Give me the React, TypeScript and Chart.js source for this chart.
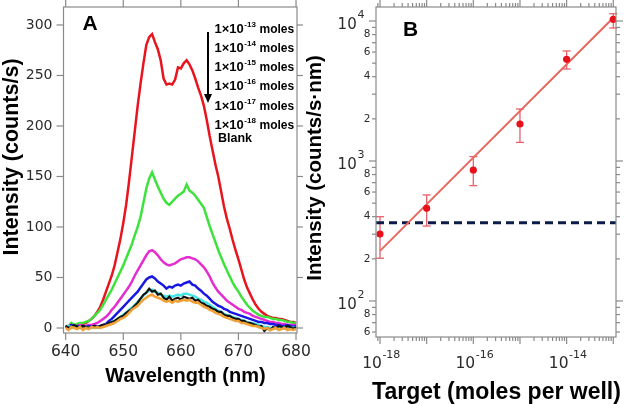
import React, { useEffect, useRef } from "react";
import { Chart, registerables } from "chart.js";

Chart.register(...registerables);

// ---------------- Panel A data ----------------
const wavelengths = [
  640, 640.5, 641, 641.5, 642, 642.5, 643, 643.5, 644, 644.5,
  645, 645.5, 646, 646.5, 647, 647.5, 648, 648.5, 649, 649.5,
  650, 650.5, 651, 651.5, 652, 652.5, 653, 653.5, 654, 654.5,
  655, 655.5, 656, 656.5, 657, 657.5, 658, 658.5, 659, 659.5,
  660, 660.5, 661, 661.5, 662, 662.5, 663, 663.5, 664, 664.5,
  665, 665.5, 666, 666.5, 667, 667.5, 668, 668.5, 669, 669.5,
  670, 670.5, 671, 671.5, 672, 672.5, 673, 673.5, 674, 674.5,
  675, 675.5, 676, 676.5, 677, 677.5, 678, 678.5, 679, 679.5,
  680,
];

const moles1e13 = [
  1, 2, 3, 2, 3, 3, 4, 5, 7, 9,
  12, 16, 21, 28, 36, 44, 52, 62, 75, 88,
  104, 122, 145, 170, 195, 220, 242, 262, 280, 288,
  291, 283, 276, 265, 247, 241, 242, 241, 246, 258,
  257, 262, 265, 261, 255, 247, 238, 230, 220, 206,
  190, 176, 162, 150, 135, 120, 108, 98, 87, 77,
  68, 58, 48, 40, 34, 28, 23, 19, 16, 14,
  12, 11, 10, 10, 9, 9, 8, 7, 6, 6,
  5,
];
const moles1e14 = [
  1, 2, 5, 3, 4, 5, 5, 6, 7, 9,
  12, 15, 18, 23, 28, 33, 38, 44, 50, 56,
  62, 69, 76, 83, 92, 100, 110, 124, 138, 148,
  154, 147, 140, 134, 128, 124, 122, 125, 128, 131,
  133, 135, 142, 136, 134, 131, 127, 123, 119, 110,
  101, 93, 85, 77, 70, 63, 57, 51, 45, 40,
  36, 31, 27, 23, 20, 17, 15, 13, 12, 11,
  11, 10, 9, 9, 8, 8, 7, 6, 6, 5,
  5,
];
const moles1e15 = [
  1, 2, 3, 1, 2, 3, 2, 2, 3, 3,
  4, 5, 7, 9, 11, 14, 18, 21, 25, 29,
  33, 37, 41, 46, 52, 57, 62, 67, 72, 76,
  77, 75, 72, 68, 65, 63, 62, 63, 64, 66,
  68, 69, 70, 70, 69, 68, 66, 63, 60, 56,
  51, 45, 40, 36, 33, 30, 27, 25, 23, 21,
  19, 18, 16, 15, 14, 12, 11, 10, 9, 8,
  7, 6, 6, 5, 5, 4, 4, 3, 3, 3,
  3,
];
const moles1e16 = [
  2, 1, 3, 1, 2, 1, 2, 1, 2, 1,
  2, 1, 2, 3, 4, 7, 9, 12, 15, 18,
  21, 24, 27, 30, 33, 36, 40, 44, 48, 50,
  51, 49, 46, 44, 42, 39, 41, 40, 42, 43,
  42, 44, 45, 46, 43, 42, 39, 37, 34, 32,
  29, 26, 24, 22, 21, 19, 18, 16, 15, 14,
  13, 12, 11, 10, 9, 8, 7, 6, 6, 5,
  5, 4, 4, 3, 3, 2, 2, 3, 2, 1,
  2,
];
const moles1e17 = [
  1, 2, 0, 1, 0, 1, 0, 1, 0, 0,
  1, 0, 1, 2, 3, 4, 6, 7, 9, 11,
  13, 15, 18, 20, 23, 26, 29, 32, 35, 37,
  38, 36, 35, 33, 32, 31, 32, 31, 32, 33,
  32, 34, 34, 33, 32, 31, 29, 28, 26, 25,
  23, 21, 19, 17, 16, 14, 13, 12, 11, 10,
  9, 8, 7, 6, 5, 5, 4, 3, 2, 1,
  1, 0, -1, 0, 1, 0, 1, 0, 1, 0,
  1,
];
const moles1e18 = [
  2, 0, 1, 3, 1, 0, 2, 1, 0, 1,
  2, 1, 2, 3, 3, 5, 6, 7, 9, 11,
  12, 15, 17, 19, 22, 25, 29, 33, 35, 39,
  36, 37, 33, 34, 30, 28, 31, 27, 29, 30,
  28, 31, 30, 29, 30, 27, 28, 25, 24, 22,
  21, 19, 18, 16, 16, 13, 12, 12, 10, 9,
  9, 7, 7, 5, 5, 4, 3, 1, 2, -3,
  0, -2, 1, 0, 2, 1, 0, 2, 1, -1,
  1,
];
const blank = [
  0, -2, 1, 0, -1, 1, -2, 0, -1, 1,
  0, 1, 0, 1, 2, 3, 4, 5, 7, 9,
  10, 12, 15, 18, 20, 22, 25, 28, 30, 32,
  33, 31, 30, 29, 27, 26, 27, 25, 27, 26,
  27, 28, 27, 28, 26, 25, 25, 23, 21, 20,
  18, 17, 15, 14, 13, 11, 10, 9, 8, 7,
  7, 5, 5, 4, 3, 2, 2, 1, 0, -1,
  0, -2, -1, 0, -2, -1, 0, -2, -1, -2,
  -1,
];

const seriesA = [moles1e13, moles1e14, moles1e15, moles1e16, moles1e17, moles1e18, blank];
const seriesNamesA = ["1e-13", "1e-14", "1e-15", "1e-16", "1e-17", "1e-18", "Blank"];
const seriesColorsA = ["#e8141e", "#3de23d", "#e52cd0", "#1818e2", "#45e6e6", "#111111", "#f0a035"];
const legendExponents = ["-13", "-14", "-15", "-16", "-17", "-18"];
const legendPrefix = "1×10";
const legendUnit = "moles";
const blankLabel = "Blank";

const xTicksA = [640, 650, 660, 670, 680];
const yTicksA = [0, 50, 100, 150, 200, 250, 300];
const xTitleA = "Wavelength (nm)";
const yTitleA = "Intensity (counts/s)";

// ---------------- Panel B data ----------------
const targetMoles = [1e-18, 1e-17, 1e-16, 1e-15, 1e-14, 1e-13];
const intensityB = [301, 459, 862, 1837, 5320, 10280];
const errLowB = [202, 343, 667, 1358, 4540, 8910];
const errHighB = [400, 572, 1075, 2352, 6105, 11270];
const fitX = [1e-18, 1e-13];
const fitY = [228, 10560];
const thresholdY = 362;
const xRangeB = [8.21e-19, 1.143e-13];
const yRangeB = [55.3, 12590];
const xLabelExpB = [-18, -16, -14];
const yMajorExpB = [2, 3, 4];
const minorMultipliers = [2, 3, 4, 5, 6, 7, 8, 9];
const yMinorLabelMultipliers = [2, 4, 6, 8];
const xTitleB = "Target (moles per well)";
const yTitleB = "Intensity (counts/s·nm)";

// ---------------- drawing helpers ----------------
const FRAME = "#8a8a8a";
const TICK_TEXT = "#2b2b2b";
const SANS = '"DejaVu Sans", sans-serif';
const BOLD = '"Liberation Sans", Arial, sans-serif';

function seg(ctx: CanvasRenderingContext2D, x1: number, y1: number, x2: number, y2: number) {
  ctx.beginPath();
  ctx.moveTo(x1, y1);
  ctx.lineTo(x2, y2);
  ctx.stroke();
}

const panelAPlugin = {
  id: "panelA",
  afterDraw(chart: any) {
    const { ctx, chartArea: a } = chart;
    const x = chart.scales.x;
    const y = chart.scales.y;
    ctx.save();
    ctx.strokeStyle = FRAME;
    ctx.lineWidth = 1.2;
    ctx.strokeRect(a.left, a.top, a.right - a.left, a.bottom - a.top);
    xTicksA.forEach((v) => {
      const px = x.getPixelForValue(v);
      seg(ctx, px, a.bottom, px, a.bottom + 7);
      seg(ctx, px, a.top, px, a.top - 7);
    });
    yTicksA.forEach((v) => {
      const py = y.getPixelForValue(v);
      seg(ctx, a.left - 7, py, a.left, py);
      seg(ctx, a.right, py, a.right + 6, py);
    });
    ctx.fillStyle = TICK_TEXT;
    ctx.font = `15.5px ${SANS}`;
    ctx.textAlign = "center";
    ctx.textBaseline = "middle";
    xTicksA.forEach((v) => ctx.fillText(String(v), x.getPixelForValue(v), 352));
    ctx.font = `14px ${SANS}`;
    ctx.textAlign = "right";
    yTicksA.forEach((v) => ctx.fillText(String(v), 52.5, y.getPixelForValue(v)));

    ctx.fillStyle = "#000";
    ctx.textBaseline = "alphabetic";
    ctx.textAlign = "center";
    ctx.font = `bold 20px ${BOLD}`;
    ctx.fillText(xTitleA, 185.5, 382);
    ctx.save();
    ctx.translate(17.5, 157);
    ctx.rotate(-Math.PI / 2);
    ctx.font = `bold 21.5px ${BOLD}`;
    ctx.fillText(yTitleA, 0, 0);
    ctx.restore();

    ctx.textAlign = "left";
    ctx.font = `bold 21px ${BOLD}`;
    ctx.fillText("A", 82.5, 30);

    // legend
    legendExponents.forEach((exp, i) => {
      const yb = 32.5 + i * 19.3;
      ctx.font = `bold 13px ${BOLD}`;
      ctx.fillText(legendPrefix, 214.5, yb);
      const w = ctx.measureText(legendPrefix).width;
      ctx.font = `bold 8px ${BOLD}`;
      ctx.fillText(exp, 214.5 + w + 0.5, yb - 6);
      ctx.font = `bold 12px ${BOLD}`;
      ctx.fillText(legendUnit, 259.5, yb);
    });
    ctx.font = `bold 12.5px ${BOLD}`;
    ctx.fillText(blankLabel, 218, 142);

    // arrow
    ctx.strokeStyle = "#000";
    ctx.lineWidth = 2;
    seg(ctx, 208, 32, 208, 95);
    ctx.beginPath();
    ctx.moveTo(204, 94);
    ctx.lineTo(212, 94);
    ctx.lineTo(208, 103);
    ctx.closePath();
    ctx.fillStyle = "#000";
    ctx.fill();
    ctx.restore();
  },
};

const panelBPlugin = {
  id: "panelB",
  beforeDatasetsDraw(chart: any) {
    const { ctx } = chart;
    const x = chart.scales.x;
    const y = chart.scales.y;
    ctx.save();
    ctx.strokeStyle = "#e8606a";
    ctx.lineWidth = 1.3;
    targetMoles.forEach((t, i) => {
      const px = x.getPixelForValue(t);
      const yl = y.getPixelForValue(errLowB[i]);
      const yh = y.getPixelForValue(errHighB[i]);
      seg(ctx, px, yl, px, yh);
      seg(ctx, px - 4, yl, px + 4, yl);
      seg(ctx, px - 4, yh, px + 4, yh);
    });
    ctx.restore();
  },
  afterDraw(chart: any) {
    const { ctx, chartArea: a } = chart;
    const x = chart.scales.x;
    const y = chart.scales.y;
    ctx.save();
    ctx.strokeStyle = FRAME;
    ctx.lineWidth = 1.2;
    ctx.strokeRect(a.left, a.top, a.right - a.left, a.bottom - a.top);

    const inX = (v: number) => v >= xRangeB[0] && v <= xRangeB[1];
    const inY = (v: number) => v >= yRangeB[0] && v <= yRangeB[1];
    // x ticks
    for (let e = -19; e <= -13; e++) {
      const major = Math.pow(10, e);
      if (inX(major)) {
        const px = x.getPixelForValue(major);
        seg(ctx, px, a.bottom, px, a.bottom + 7);
        seg(ctx, px, a.top, px, a.top - 7);
      }
      minorMultipliers.forEach((m) => {
        const v = m * Math.pow(10, e);
        if (!inX(v)) return;
        const px = x.getPixelForValue(v);
        seg(ctx, px, a.bottom, px, a.bottom + 4);
        seg(ctx, px, a.top, px, a.top - 4);
      });
    }
    // y ticks
    for (let e = 1; e <= 4; e++) {
      const major = Math.pow(10, e);
      if (inY(major)) {
        const py = y.getPixelForValue(major);
        seg(ctx, a.left - 7, py, a.left, py);
        seg(ctx, a.right, py, a.right + 7, py);
      }
      minorMultipliers.forEach((m) => {
        const v = m * Math.pow(10, e);
        if (!inY(v)) return;
        const py = y.getPixelForValue(v);
        seg(ctx, a.left - 4, py, a.left, py);
        seg(ctx, a.right, py, a.right + 4, py);
      });
    }

    // x labels
    ctx.fillStyle = TICK_TEXT;
    ctx.textBaseline = "middle";
    xLabelExpB.forEach((e) => {
      const px = x.getPixelForValue(Math.pow(10, e));
      ctx.font = `15.5px ${SANS}`;
      const w10 = ctx.measureText("10").width;
      ctx.font = `11px ${SANS}`;
      const sup = String(e);
      const ws = ctx.measureText(sup).width;
      const start = px - (w10 + ws) / 2 + 1;
      ctx.textAlign = "left";
      ctx.font = `15.5px ${SANS}`;
      ctx.fillText("10", start, 364);
      ctx.font = `11px ${SANS}`;
      ctx.fillText(sup, start + w10 + 0.5, 355.5);
    });
    // y labels
    yMajorExpB.forEach((e) => {
      const py = y.getPixelForValue(Math.pow(10, e));
      ctx.font = `15px ${SANS}`;
      ctx.textAlign = "right";
      ctx.fillText("10", 56.7, py + 4);
      ctx.font = `11px ${SANS}`;
      ctx.textAlign = "left";
      ctx.fillText(String(e), 57.5, py - 6);
    });
    ctx.font = `10.5px ${SANS}`;
    ctx.textAlign = "right";
    for (let e = 1; e <= 4; e++) {
      yMinorLabelMultipliers.forEach((m) => {
        const v = m * Math.pow(10, e);
        if (!inY(v)) return;
        ctx.fillText(String(m), 70.5, y.getPixelForValue(v));
      });
    }

    // titles
    ctx.fillStyle = "#000";
    ctx.textBaseline = "alphabetic";
    ctx.textAlign = "center";
    ctx.font = `bold 23px ${BOLD}`;
    ctx.fillText(xTitleB, 196.5, 399);
    ctx.save();
    ctx.translate(20.5, 168);
    ctx.rotate(-Math.PI / 2);
    ctx.font = `bold 20.5px ${BOLD}`;
    ctx.fillText(yTitleB, 0, 0);
    ctx.restore();

    ctx.textAlign = "left";
    ctx.font = `bold 21px ${BOLD}`;
    ctx.fillText("B", 103, 36);
    ctx.restore();
  },
};

export default function App() {
  const refA = useRef<HTMLCanvasElement | null>(null);
  const refB = useRef<HTMLCanvasElement | null>(null);

  useEffect(() => {
    if (!refA.current || !refB.current) return;
    const chartA = new Chart(refA.current, {
      type: "line",
      data: {
        datasets: seriesA.map((s, i) => ({
          label: seriesNamesA[i],
          data: wavelengths.map((w, j) => ({ x: w, y: s[j] })),
          borderColor: seriesColorsA[i],
          backgroundColor: seriesColorsA[i],
          borderWidth: i === 5 ? 2.2 : 2.5,
          pointRadius: 0,
          fill: false,
          tension: 0,
          order: 7 - i,
        })),
      },
      options: {
        responsive: false,
        animation: false,
        events: [],
        layout: { padding: { left: 63.5, right: 23, top: 7, bottom: 71 } },
        plugins: { legend: { display: false }, tooltip: { enabled: false } },
        scales: {
          x: { type: "linear", display: false, min: 639.62, max: 680.17 },
          y: { type: "linear", display: false, min: -4.95, max: 317.8 },
        },
      },
      plugins: [panelAPlugin],
    } as any);

    const chartB = new Chart(refB.current, {
      type: "line",
      data: {
        datasets: [
          {
            label: "Measured",
            data: targetMoles.map((t, i) => ({ x: t, y: intensityB[i] })),
            showLine: false,
            pointRadius: 3.6,
            pointBackgroundColor: "#e8101a",
            pointBorderWidth: 0,
            borderColor: "#e8101a",
          },
          {
            label: "Fit",
            data: fitX.map((t, i) => ({ x: t, y: fitY[i] })),
            borderColor: "#e8685f",
            borderWidth: 2,
            pointRadius: 0,
            tension: 0,
          },
          {
            label: "Blank level",
            data: xRangeB.map((t) => ({ x: t, y: thresholdY })),
            borderColor: "#0c1c48",
            borderWidth: 3,
            borderDash: [8, 5],
            pointRadius: 0,
          },
        ],
      },
      options: {
        responsive: false,
        animation: false,
        events: [],
        layout: { padding: { left: 76, right: 9, top: 7, bottom: 67 } },
        plugins: { legend: { display: false }, tooltip: { enabled: false } },
        scales: {
          x: { type: "logarithmic", display: false, min: xRangeB[0], max: xRangeB[1] },
          y: { type: "logarithmic", display: false, min: yRangeB[0], max: yRangeB[1] },
        },
      },
      plugins: [panelBPlugin],
    } as any);

    return () => {
      chartA.destroy();
      chartB.destroy();
    };
  }, []);

  return (
    <div style={{ position: "absolute", left: 0, top: 0, width: 625, height: 404, background: "#fff" }}>
      <canvas
        ref={refA}
        width={320}
        height={404}
        style={{ position: "absolute", left: 0, top: 0, width: 320, height: 404 }}
      />
      <canvas
        ref={refB}
        width={325}
        height={404}
        style={{ position: "absolute", left: 300, top: 0, width: 325, height: 404 }}
      />
    </div>
  );
}
